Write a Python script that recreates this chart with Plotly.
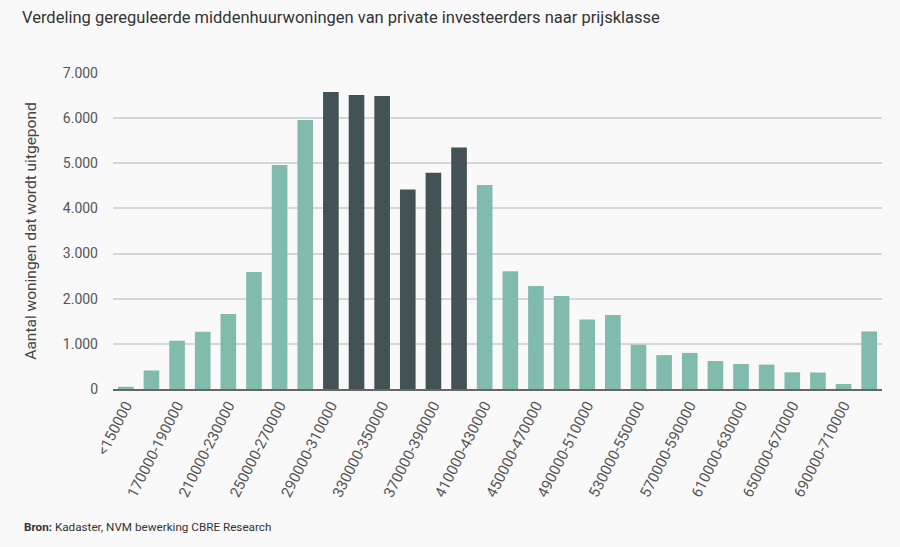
import plotly.graph_objects as go

# price classes, steps of 20.000
categories = [
    "<150000", "150000-170000", "170000-190000", "190000-210000", "210000-230000",
    "230000-250000", "250000-270000", "270000-290000", "290000-310000", "310000-330000",
    "330000-350000", "350000-370000", "370000-390000", "390000-410000", "410000-430000",
    "430000-450000", "450000-470000", "470000-490000", "490000-510000", "510000-530000",
    "530000-550000", "550000-570000", "570000-590000", "590000-610000", "610000-630000",
    "630000-650000", "650000-670000", "670000-690000", "690000-710000", ">710000",
]
values = [
    50, 410, 1070, 1270, 1660, 2590, 4960, 5960, 6580, 6510,
    6490, 4420, 4790, 5350, 4520, 2610, 2280, 2060, 1540, 1640,
    980, 750, 800, 620, 555, 540, 370, 365, 110, 1275,
]
# the regulated mid-rent range is highlighted dark
highlighted = ["290000-310000", "310000-330000", "330000-350000",
               "350000-370000", "370000-390000", "390000-410000"]
tick_labels = categories[::2]

LIGHT = "#80bbad"
DARK = "#435254"
BG = "#f9f9f9"
bar_colors = [DARK if c in highlighted else LIGHT for c in categories]

W, H = 900, 547
M = dict(l=113, r=18, t=73, b=158)
plot_w = W - M["l"] - M["r"]
plot_h = H - M["t"] - M["b"]

fig = go.Figure(
    go.Bar(
        x=categories,
        y=values,
        marker=dict(color=bar_colors, line=dict(width=0)),
        hoverinfo="x+y",
    )
)

fig.update_layout(
    width=W,
    height=H,
    separators=",.",
    font=dict(family="Roboto", color="#555555"),
    paper_bgcolor=BG,
    plot_bgcolor=BG,
    bargap=0.39,
    showlegend=False,
    margin=M,
    title=dict(
        text="Verdeling gereguleerde middenhuurwoningen van private investeerders naar prijsklasse",
        xref="container", yref="container",
        x=22 / W, xanchor="left", y=1 - 17 / H, yanchor="middle",
        font=dict(size=16.5, color="#333333"),
    ),
    xaxis=dict(
        tickmode="array",
        tickvals=tick_labels,
        ticktext=tick_labels,
        tickangle=-63,
        tickfont=dict(size=15, color="#555555"),
        showgrid=False,
        showline=True,
        linecolor="#666666",
        linewidth=1.5,
        ticks="",
    ),
    yaxis=dict(
        range=[0, 7000],
        dtick=1000,
        tickformat=",d",
        tickfont=dict(size=14, color="#555555"),
        gridcolor="#d3d7d9",
        gridwidth=1.5,
        zeroline=False,
        ticklabelstandoff=14,
        title=dict(text="Aantal woningen dat wordt uitgepond",
                   font=dict(size=15.5, color="#444444"), standoff=22),
    ),
    annotations=[
        dict(
            text="<b>Bron:</b> Kadaster, NVM bewerking CBRE Research",
            x=(22 - M["l"]) / plot_w, y=(H - M["b"] - 527) / plot_h,
            xref="paper", yref="paper",
            xanchor="left", yanchor="middle", showarrow=False,
            font=dict(size=11.7, color="#333333"),
        )
    ],
)

# page body has an 8px default margin; drop it so the figure sits at 0,0
fig.write_html(
    "out.html",
    config={"displayModeBar": False},
    post_script="document.body.style.margin='0';document.body.style.background='%s';" % BG,
)
